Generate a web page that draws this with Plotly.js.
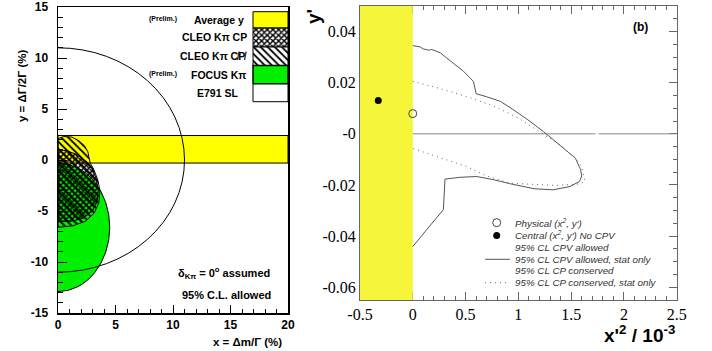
<!DOCTYPE html>
<html>
<head>
<meta charset="utf-8">
<script src="https://cdn.plot.ly/plotly-3.0.1.min.js"></script>
<style>html,body{margin:0;padding:0;background:#fff;}</style>
</head>
<body>
<div id="chart" style="width:712px;height:351px;"></div>
<script>
// ---------------- Panel (a) data: x = dm/Gamma (%), y = dGamma/2Gamma (%) ----------------
const avgYBand = [-0.3, 2.4];          // Average y (Prelim.) band limits
const e791X = [-11, 11];               // E791 SL circle extent in x
const e791Y = [-11, 11];               // E791 SL circle extent in y
const focusX = [-4.5, 4.5];            // FOCUS K-pi ellipse extent in x
const focusY = [-12.9, -0.3];          // FOCUS K-pi ellipse extent in y
const cleoCPVx = [0, 0.5, 1.2, 1.8, 2.3, 2.6, 2.7, 2.8, 3.1, 3.45, 3.65, 3.55, 3.15, 2.4, 1.3, 0];
const cleoCPVy = [2.1, 2.3, 2.25, 1.9, 1.4, 0.8, 0.2, -0.3, -0.9, -1.9, -3.0, -4.2, -5.2, -6.0, -6.45, -6.6];
const cleoCPx = [0, 0.8, 1.6, 2.2, 2.65, 3.0, 3.35, 3.5, 3.4, 3.0, 2.2, 1.2, 0];
const cleoCPy = [1.0, 0.9, 0.55, 0.1, -0.3, -0.9, -1.9, -3.0, -4.1, -5.0, -5.7, -6.0, -6.05];
const aTickVals = [-15, -10, -5, 0, 5, 10, 15];
const aTickText = ['-15', '-10', '-5', '0', '5', '10', '15'];
const aXTickVals = [0, 5, 10, 15, 20];
const aXTickText = ['0', '5', '10', '15', '20'];
const legendLabelsA = ['Average y', 'CLEO K\u03c0 CP', 'CLEO K\u03c0 C\u0338P\u0338', 'FOCUS K\u03c0', 'E791 SL'];

// ---------------- Panel (b) data: x'^2 / 1e-3, y' ----------------
const unphysX = [-0.5, 0];             // x'^2 < 0 region
const solidX = [0, 0.04, 0.07, 0.1, 0.15, 0.18, 0.21, 0.26, 0.32, 0.38, 0.48, 0.575, 0.6, 0.7, 0.83, 0.95, 1.09, 1.24, 1.39, 1.5, 1.54, 1.59, 1.6, 1.58, 1.49, 1.33, 1.15, 0.92, 0.75, 0.605, 0.45, 0.305, 0.29, 0.21, 0.13, 0.06, 0];
const solidY = [0.0345, 0.0343, 0.034, 0.0332, 0.0327, 0.033, 0.0326, 0.0317, 0.0297, 0.0277, 0.0245, 0.0205, 0.0157, 0.0145, 0.0127, 0.0095, 0.0055, 0.0008, -0.0043, -0.008, -0.0095, -0.014, -0.0165, -0.0186, -0.0206, -0.0219, -0.0215, -0.0195, -0.0178, -0.0167, -0.017, -0.0177, -0.0297, -0.0336, -0.0376, -0.041, -0.0441];
const dotX = [0, 0.25, 0.5, 0.75, 1.0, 1.14, 1.25, 1.4, 1.54, 1.6, 1.63, 1.58, 1.36, 1.15, 0.92, 0.7, 0.51, 0.25, 0];
const dotY = [0.0205, 0.0178, 0.0147, 0.0112, 0.0062, 0.0025, -0.0005, -0.0045, -0.0095, -0.0128, -0.0186, -0.0196, -0.0202, -0.0198, -0.0193, -0.0165, -0.0128, -0.0092, -0.0057];
const zeroLineX = [0, 1.73, null, 1.76, 2.5];
const zeroLineY = [0, 0, null, 0, 0];
const physicalPt = [0, 0.0079];
const centralPt = [-0.327, 0.013];
const bYTickVals = [0.04, 0.02, 0, -0.02, -0.04, -0.06];
const bYTickText = ['0.04', '0.02', '-0', '-0.02', '-0.04', '-0.06'];
const bXTickVals = [-0.5, 0, 0.5, 1, 1.5, 2, 2.5];
const bXTickText = ['-0.5', '0', '0.5', '1', '1.5', '2', '2.5'];
const legendLabelsB = ["Physical (x<sup>2</sup>, y')", "Central (x<sup>2</sup>, y') No CPV", '95% CL CPV allowed',
  '95% CL CPV allowed, stat only', '95% CL CP conserved', '95% CL CP conserved, stat only'];

// ---------------- layout geometry (pixels) ----------------
const W = 712, H = 351;
const A = {l: 58, r: 288, t: 7, b: 313};
const B = {l: 360, r: 676.7, t: 6, b: 300};
const px = v => v / W, py = v => 1 - v / H;
const SANS = 'Arial';
const SERIF = 'Times New Roman';
const YEL = '#ffff00', GRN = '#00f000', YEL2 = '#f5f53a';

// data helpers for legend boxes of panel (a), from pixel rows
const aX = p => (p - A.l) / (A.r - A.l) * 20;
const aY = p => 15 - (p - A.t) / (A.b - A.t) * 30;
const rowEdges = [11.7, 28, 47, 65.5, 84, 101.7];
const boxL = aX(253), boxR = 20;

function box(i) {
  const y0 = aY(rowEdges[i + 1]), y1 = aY(rowEdges[i]);
  return {x: [boxL, boxR, boxR, boxL, boxL], y: [y0, y0, y1, y1, y0]};
}

const traces = [];
// hatched CLEO regions (panel a)
traces.push({x: cleoCPVx.concat([0]), y: cleoCPVy.concat([cleoCPVy[0]]), xaxis: 'x', yaxis: 'y', mode: 'lines', fill: 'toself',
  fillcolor: 'rgba(0,0,0,0)', line: {color: 'black', width: 1},
  fillpattern: {shape: '\\', fgcolor: 'black', bgcolor: 'rgba(0,0,0,0)', size: 5, solidity: 0.35, fillmode: 'replace'},
  hoverinfo: 'skip', showlegend: false});
traces.push({x: cleoCPx.concat([0]), y: cleoCPy.concat([cleoCPy[0]]), xaxis: 'x', yaxis: 'y', mode: 'lines', fill: 'toself',
  fillcolor: 'rgba(0,0,0,0)', line: {color: 'black', width: 1},
  fillpattern: {shape: 'x', fgcolor: 'black', bgcolor: 'rgba(0,0,0,0)', size: 4, solidity: 0.6, fillmode: 'replace'},
  hoverinfo: 'skip', showlegend: false});
// legend boxes (panel a)
const boxStyles = [
  {fillcolor: YEL},
  {fillcolor: 'white', fillpattern: {shape: 'x', fgcolor: 'black', bgcolor: 'white', size: 4, solidity: 0.6, fillmode: 'replace'}},
  {fillcolor: 'white', fillpattern: {shape: '\\', fgcolor: 'black', bgcolor: 'white', size: 5, solidity: 0.35, fillmode: 'replace'}},
  {fillcolor: GRN},
  {fillcolor: 'white'}
];
boxStyles.forEach((s, i) => {
  const b = box(i);
  traces.push(Object.assign({x: b.x, y: b.y, xaxis: 'x', yaxis: 'y', mode: 'lines', fill: 'toself',
    line: {color: 'black', width: i === 3 ? 1.5 : 1}, hoverinfo: 'skip', showlegend: false}, s));
});

// panel (b)
traces.push({x: [unphysX[0], unphysX[1], unphysX[1], unphysX[0], unphysX[0]], y: [-0.065, -0.065, 0.05, 0.05, -0.065],
  xaxis: 'x2', yaxis: 'y2', mode: 'lines', fill: 'toself', fillcolor: YEL2, line: {width: 0, color: YEL2},
  hoverinfo: 'skip', showlegend: false});
traces.push({x: zeroLineX, y: zeroLineY, xaxis: 'x2', yaxis: 'y2', mode: 'lines', line: {color: '#888', width: 1},
  connectgaps: false, hoverinfo: 'skip', showlegend: false});
traces.push({x: dotX, y: dotY, xaxis: 'x2', yaxis: 'y2', mode: 'lines', line: {color: '#666', width: 1, dash: '1px,4px'},
  hoverinfo: 'skip', showlegend: false});
traces.push({x: solidX, y: solidY, xaxis: 'x2', yaxis: 'y2', mode: 'lines', line: {color: '#555', width: 1},
  hoverinfo: 'skip', showlegend: false});
traces.push({x: [physicalPt[0]], y: [physicalPt[1]], xaxis: 'x2', yaxis: 'y2', mode: 'markers', cliponaxis: false,
  marker: {symbol: 'circle-open', size: 8, color: '#444', line: {width: 1}}, hoverinfo: 'skip', showlegend: false});
traces.push({x: [centralPt[0]], y: [centralPt[1]], xaxis: 'x2', yaxis: 'y2', mode: 'markers',
  marker: {symbol: 'circle', size: 7, color: 'black'}, hoverinfo: 'skip', showlegend: false});
// legend symbols for (b)
const bX = p => -0.5 + (p - B.l) / (B.r - B.l) * 3;
const bY = p => 0.05 - (p - B.t) / (B.b - B.t) * 0.115;
const legRowsB = [222.7, 235.4, 247.3, 259.3, 270.9, 282.7];
traces.push({x: [bX(496.7)], y: [bY(legRowsB[0])], xaxis: 'x2', yaxis: 'y2', mode: 'markers',
  marker: {symbol: 'circle-open', size: 8, color: '#444', line: {width: 1}}, hoverinfo: 'skip', showlegend: false});
traces.push({x: [bX(496.7)], y: [bY(legRowsB[1])], xaxis: 'x2', yaxis: 'y2', mode: 'markers',
  marker: {symbol: 'circle', size: 7, color: 'black'}, hoverinfo: 'skip', showlegend: false});
traces.push({x: [bX(485), bX(510)], y: [bY(legRowsB[3]), bY(legRowsB[3])], xaxis: 'x2', yaxis: 'y2', mode: 'lines',
  line: {color: '#555', width: 1}, hoverinfo: 'skip', showlegend: false});
traces.push({x: [bX(485), bX(510)], y: [bY(legRowsB[5]), bY(legRowsB[5])], xaxis: 'x2', yaxis: 'y2', mode: 'lines',
  line: {color: '#666', width: 1, dash: '1px,4px'}, hoverinfo: 'skip', showlegend: false});

const shapes = [
  {type: 'rect', xref: 'x', yref: 'y', x0: 0, x1: 20, y0: avgYBand[0], y1: avgYBand[1], fillcolor: YEL,
    line: {color: 'black', width: 1}, layer: 'below'},
  {type: 'circle', xref: 'x', yref: 'y', x0: focusX[0], x1: focusX[1], y0: focusY[0], y1: focusY[1], fillcolor: GRN,
    line: {color: 'black', width: 1}, layer: 'below'},
  {type: 'circle', xref: 'x', yref: 'y', x0: e791X[0], x1: e791X[1], y0: e791Y[0], y1: e791Y[1],
    fillcolor: 'rgba(0,0,0,0)', line: {color: 'black', width: 1}, layer: 'above'}
];

const ann = [];
function T(text, x, y, size, opts) {
  ann.push(Object.assign({text: text, xref: 'paper', yref: 'paper', x: px(x), y: py(y), showarrow: false,
    xanchor: 'center', yanchor: 'middle', font: {family: SANS, size: size, color: 'black', weight: 'bold'}}, opts || {}));
}
// panel a legend labels
const rowMid = i => (rowEdges[i] + rowEdges[i + 1]) / 2;
T(legendLabelsA[0], 219, rowMid(0), 10.5);
T(legendLabelsA[1], 249, rowMid(1), 10.5, {xanchor: 'right'});
T(legendLabelsA[2], 249, rowMid(2), 10.5, {xanchor: 'right'});
T(legendLabelsA[3], 218, rowMid(3), 10.5);
T(legendLabelsA[4], 217, rowMid(4), 10.5);
T('(Prelim.)', 163, rowMid(0) - 1, 7);
T('(Prelim.)', 163, rowMid(3) - 1, 7);
T('\u03b4<sub>K\u03c0</sub> = 0<sup>o</sup> assumed', 224, 273, 11);
T('95% C.L. allowed', 226, 295, 11);
T('y = \u0394\u0393/2\u0393 (%)', 22, 86, 11.5, {textangle: -90});
T('x = \u0394m/\u0393 (%)', 284, 342, 11.5, {xanchor: 'right'});
// panel b texts
T('(b)', 640, 27, 12);
T("y'", 314, 17, 19, {textangle: -90});
T("x'<sup>2</sup> / 10<sup>-3</sup>", 677, 334, 19, {xanchor: 'right'});
legendLabelsB.forEach((s, i) => {
  T(s, 513, legRowsB[i], 9.8, {xanchor: 'left', font: {family: SANS, size: 9.8, color: '#333', style: 'italic'}});
});

const layout = {
  width: W, height: H, margin: {l: 0, r: 0, t: 0, b: 0}, paper_bgcolor: 'white', plot_bgcolor: 'white',
  showlegend: false,
  xaxis: {domain: [px(A.l), px(A.r)], range: [0, 20], anchor: 'y', tickmode: 'array', tickvals: aXTickVals, ticktext: aXTickText,
    ticks: 'inside', ticklen: 8, tickcolor: 'black', tickwidth: 1, showline: true, linecolor: 'black', linewidth: 1.5, mirror: true,
    showgrid: false, zeroline: false, tickfont: {family: SANS, size: 12, color: 'black', weight: 'bold'},
    minor: {tickmode: 'linear', tick0: 0, dtick: 1, ticks: 'inside', ticklen: 4, tickcolor: 'black', showgrid: false}},
  yaxis: {domain: [py(A.b), py(A.t)], range: [-15, 15], anchor: 'x', tickmode: 'array', tickvals: aTickVals, ticktext: aTickText,
    ticks: 'inside', ticklen: 9, tickcolor: 'black', tickwidth: 1, showline: true, linecolor: 'black', linewidth: 1.5, mirror: true,
    showgrid: false, zeroline: false, tickfont: {family: SANS, size: 12, color: 'black', weight: 'bold'}, ticklabelstandoff: 6,
    minor: {tickmode: 'linear', tick0: 0, dtick: 1, ticks: 'inside', ticklen: 5, tickcolor: 'black', showgrid: false}},
  xaxis2: {domain: [px(B.l), px(B.r)], range: [-0.5, 2.5], anchor: 'y2', tickmode: 'array', tickvals: bXTickVals, ticktext: bXTickText,
    ticks: 'inside', ticklen: 8, tickcolor: '#666', showline: true, linecolor: '#666', linewidth: 1, mirror: 'allticks',
    showgrid: false, zeroline: false, layer: 'below traces', tickfont: {family: SERIF, size: 16, color: 'black'},
    minor: {tickmode: 'linear', tick0: 0, dtick: 0.1, ticks: 'inside', ticklen: 4, tickcolor: '#666', showgrid: false}},
  yaxis2: {domain: [py(B.b), py(B.t)], range: [-0.065, 0.05], anchor: 'x2', tickmode: 'array', tickvals: bYTickVals, ticktext: bYTickText,
    ticks: 'inside', ticklen: 8, tickcolor: '#666', showline: true, linecolor: '#666', linewidth: 1, mirror: 'allticks',
    showgrid: false, zeroline: false, layer: 'below traces', tickfont: {family: SERIF, size: 16, color: 'black'},
    minor: {tickmode: 'linear', tick0: 0, dtick: 0.005, ticks: 'inside', ticklen: 4, tickcolor: '#666', showgrid: false}},
  shapes: shapes,
  annotations: ann
};

Plotly.newPlot('chart', traces, layout, {staticPlot: true, displayModeBar: false});
</script>
</body>
</html>
